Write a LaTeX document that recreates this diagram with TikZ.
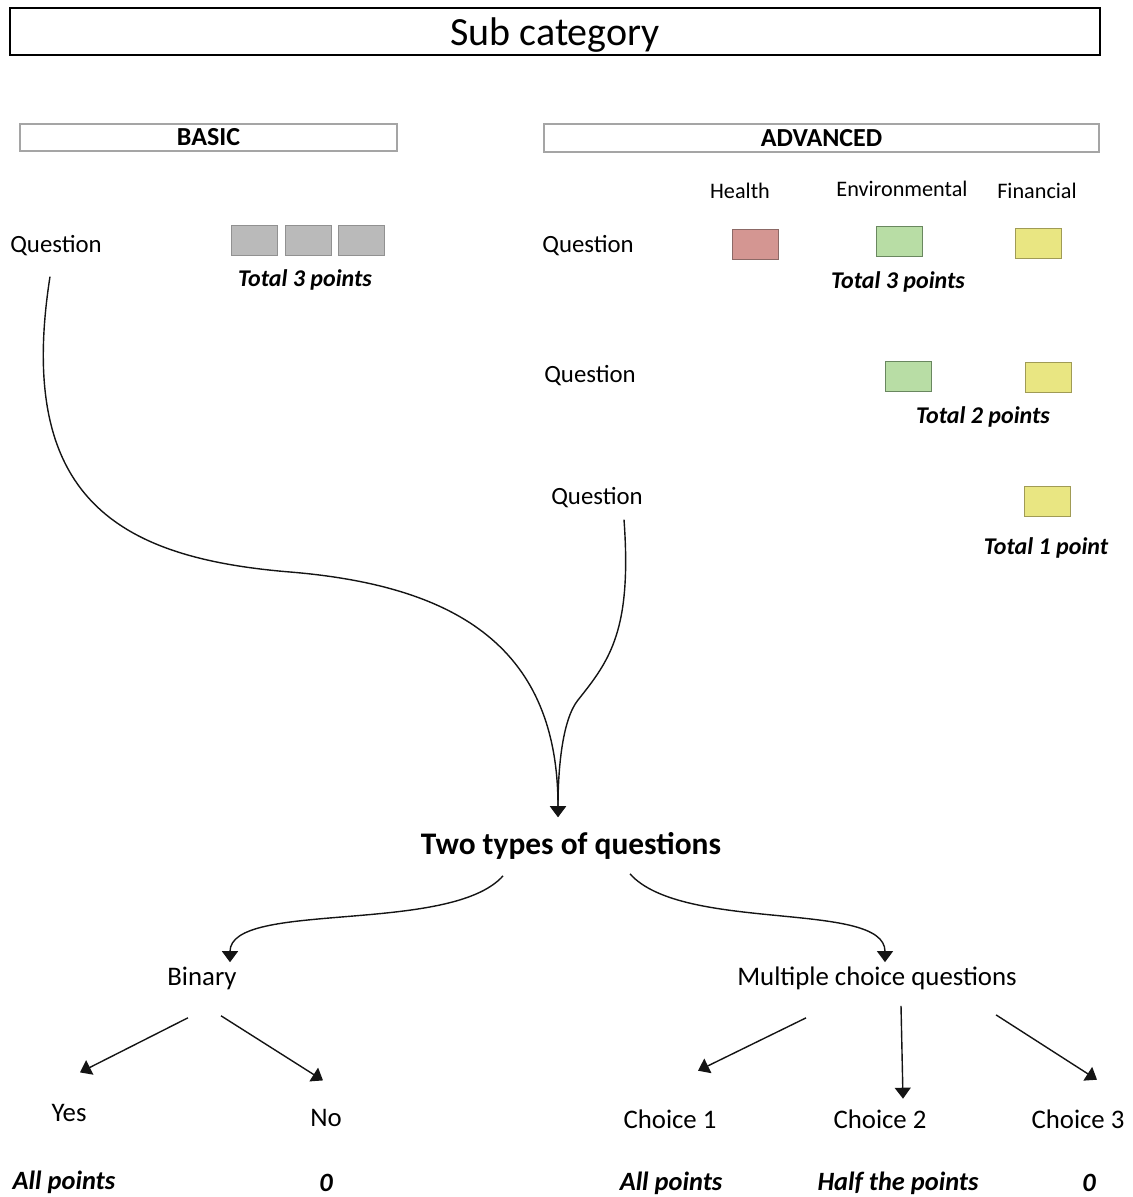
\documentclass[tikz,border=0pt]{standalone}
\usepackage{fontspec}
\setmainfont{Carlito}
\usepackage{tikz}
\usetikzlibrary{arrows.meta, positioning}
\definecolor{mydark}{RGB}{20,20,20}
\definecolor{frameg}{RGB}{165,165,165}
\definecolor{ptgray}{RGB}{186,186,186}
\definecolor{ptgrayd}{RGB}{145,145,145}
\definecolor{pthealth}{RGB}{212,150,146}
\definecolor{pthealthd}{RGB}{140,105,102}
\definecolor{ptenv}{RGB}{184,221,165}
\definecolor{ptenvd}{RGB}{105,135,95}
\definecolor{ptfin}{RGB}{233,230,130}
\definecolor{ptfind}{RGB}{160,155,85}
\tikzset{
  titlebox/.style={rectangle, draw=black, line width=1pt,
    minimum width=545pt, minimum height=23.5pt, inner sep=0pt,
    text depth=0pt, font=\fontsize{20}{24}\selectfont},
  levelbox/.style={rectangle, draw=frameg, line width=1pt,
    minimum height=13.5pt, inner sep=0pt,
    font=\fontsize{13}{15}\selectfont\bfseries},
  ptbox/.style={rectangle, line width=0.5pt,
    minimum width=23pt, minimum height=15pt, inner sep=0pt},
  qlabel/.style={inner sep=2pt, font=\fontsize{12.4}{14}\selectfont},
  catlabel/.style={inner sep=2pt, font=\fontsize{11.1}{13}\selectfont},
  total/.style={inner sep=2pt, font=\fontsize{12}{14}\selectfont\bfseries\itshape},
  heading/.style={inner sep=2pt, font=\fontsize{15.7}{18}\selectfont\bfseries},
  kind/.style={inner sep=2pt, font=\fontsize{13.4}{16}\selectfont},
  score/.style={inner sep=2pt, font=\fontsize{13.2}{16}\selectfont\bfseries\itshape},
  arrow/.style={-{Triangle[width=8pt,length=5.5pt]}, line width=0.7pt, color=mydark}
}

\begin{document}
\begin{tikzpicture}[x=0.5pt, y=-0.5pt]
  \useasboundingbox (0,0) rectangle (1132,1197);

  % Title
  \node[titlebox] (sub) at (555,31.5) {Sub category};

  % Levels
  \node[levelbox, minimum width=188.5pt] (basic) at (208.5,137.5) {BASIC};
  \node[levelbox, minimum width=277.5pt, minimum height=14pt] (adv) at (821.5,138) {ADVANCED};

  % Basic question
  \node[qlabel] (qb) at (56,246) {Question};
  \node[ptbox, fill=ptgray, draw=ptgrayd] (g1) at (254,241) {};
  \node[ptbox, fill=ptgray, draw=ptgrayd] (g2) at (308,241) {};
  \node[ptbox, fill=ptgray, draw=ptgrayd] (g3) at (361,241) {};
  \node[total] (tb) at (305,280) {Total 3 points};

  % Advanced categories
  \node[catlabel] (health) at (740,191) {Health};
  \node[catlabel] (env) at (902,189) {Environmental};
  \node[catlabel] (fin) at (1037,191) {Financial};

  % Advanced question 1
  \node[qlabel] (qa1) at (588,246) {Question};
  \node[ptbox, fill=pthealth, draw=pthealthd] (h1) at (755,245) {};
  \node[ptbox, fill=ptenv, draw=ptenvd] (e1) at (899,242) {};
  \node[ptbox, fill=ptfin, draw=ptfind] (f1) at (1038,244) {};
  \node[total] (ta1) at (898,282) {Total 3 points};

  % Advanced question 2
  \node[qlabel] (qa2) at (590,376) {Question};
  \node[ptbox, fill=ptenv, draw=ptenvd] (e2) at (908,377) {};
  \node[ptbox, fill=ptfin, draw=ptfind] (f2) at (1048,378) {};
  \node[total] (ta2) at (983,417) {Total 2 points};

  % Advanced question 3
  \node[qlabel] (qa3) at (597,498) {Question};
  \node[ptbox, fill=ptfin, draw=ptfind] (f3) at (1047,501) {};
  \node[total] (ta3) at (1046,548) {Total 1 point};

  % Question types
  \node[heading] (types) at (571,846) {Two types of questions};
  \node[kind] (binary) at (202,978) {Binary};
  \node[kind] (mcq) at (877,978) {Multiple choice questions};

  % Answers
  \node[kind] (yes) at (69,1113) {Yes};
  \node[kind] (no) at (326,1118) {No};
  \node[kind] (c1) at (670,1119) {Choice 1};
  \node[kind] (c2) at (880,1119) {Choice 2};
  \node[kind] (c3) at (1078,1119) {Choice 3};

  % Points
  \node[score] (s1) at (64,1182) {All points};
  \node[score] (s2) at (326,1183) {0};
  \node[score] (s3) at (671,1183) {All points};
  \node[score] (s4) at (898,1183) {Half the points};
  \node[score] (s5) at (1089,1183) {0};

  % Curves into the types
  \draw[arrow] ([shift={(-6,16)}]qb.south) .. controls (15,500) and (120,558) .. (290,572)
    .. controls (460,586) and (558,650) .. ([shift={(-13,-11)}]types.north);
  \draw[arrow] ([shift={(27,7)}]qa3.south) .. controls (632,630) and (610,660) .. (578,700)
    .. controls (562,720) and (558,770) .. ([shift={(-13,-11)}]types.north);

  % Curves to the two kinds
  \draw[arrow] ([shift={(-68,12)}]types.south) .. controls (450,935) and (230,900) .. ([xshift=14pt]binary.north);
  \draw[arrow] ([shift={(59,10)}]types.south) .. controls (683,933) and (885,900) .. ([xshift=4pt]mcq.north);

  % Binary answers
  \draw[arrow] ([shift={(-14,24)}]binary.south) -- ([shift={(11,-27.5)}]yes.north);
  \draw[arrow] ([shift={(19,22)}]binary.south) -- ([shift={(-3,-24.5)}]no.north);

  % Multiple choice answers
  \draw[arrow] ([shift={(-71,24)}]mcq.south) -- ([shift={(28,-34.5)}]c1.north);
  \draw[arrow] ([shift={(24,12)}]mcq.south) -- ([shift={(23,-6.5)}]c2.north);
  \draw[arrow] ([shift={(119,21)}]mcq.south) -- ([shift={(19,-25.5)}]c3.north);

\end{tikzpicture}
\end{document}
